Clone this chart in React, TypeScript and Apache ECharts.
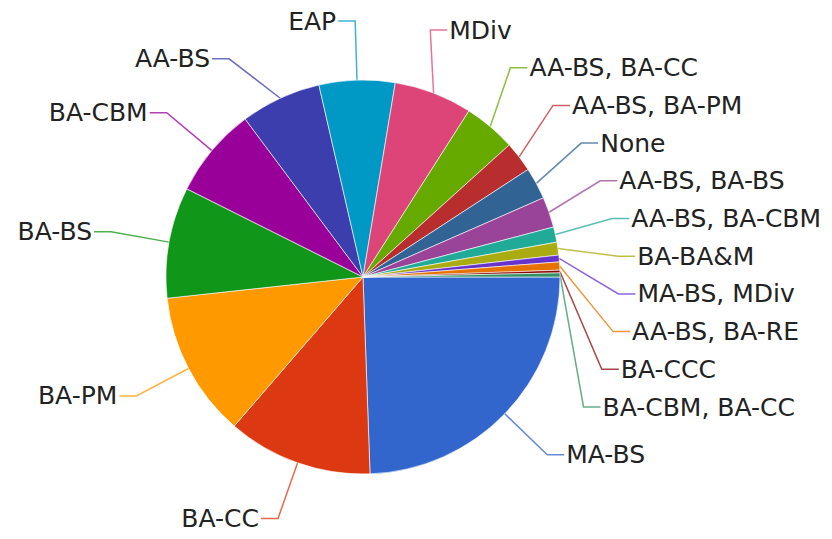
import React, { useEffect, useRef } from "react";
import * as echarts from "echarts";

const categories = [
  "MA-BS",
  "BA-CC",
  "BA-PM",
  "BA-BS",
  "BA-CBM",
  "AA-BS",
  "EAP",
  "MDiv",
  "AA-BS, BA-CC",
  "AA-BS, BA-PM",
  "None",
  "AA-BS, BA-BS",
  "AA-BS, BA-CBM",
  "BA-BA&M",
  "MA-BS, MDiv",
  "AA-BS, BA-RE",
  "BA-CCC",
  "BA-CBM, BA-CC",
];

const values = [88, 42.9, 43, 32.8, 26.7, 23.8, 22.4, 23.1, 15.4, 9, 9.4, 9, 4.5, 3.8, 2, 2.4, 0.8, 1.2];

const colors = [
  "#3366cc",
  "#dc3912",
  "#ff9900",
  "#109618",
  "#990099",
  "#3b3eac",
  "#0099c6",
  "#dd4477",
  "#66aa00",
  "#b82e2e",
  "#316395",
  "#994499",
  "#22aa99",
  "#aaaa11",
  "#6633cc",
  "#e67300",
  "#8b0707",
  "#329262",
];

// layout constants (not data)
const CX = 363;
const CY = 277;
const R = 197;
const ELBOW_R = 256;
const LEN2 = 17;
const TEXT_GAP = 2;
const GAP = 37.7;
const TOP = 30;

type LabelPos = { x: number; y: number; right: boolean; pts: number[][] };

function computeLabelLayout(vals: number[]): LabelPos[] {
  const total = vals.reduce((a, b) => a + b, 0);
  let cum = 0;
  const items = vals.map((v, i) => {
    const mid = ((cum + v / 2) / total) * Math.PI * 2;
    cum += v;
    const right = Math.cos(mid) >= 0;
    return {
      i,
      mid,
      right,
      natural: CY + ELBOW_R * Math.sin(mid),
      y: CY + ELBOW_R * Math.sin(mid),
    };
  });
  const out: LabelPos[] = new Array(vals.length);
  [true, false].forEach((side) => {
    const list = items.filter((it) => it.right === side).sort((a, b) => a.natural - b.natural);
    if (!list.length) return;
    let lastUpper = -1;
    list.forEach((it, k) => {
      if (it.natural < CY) lastUpper = k;
    });
    for (let k = lastUpper - 1; k >= 0; k--) {
      list[k].y = Math.min(list[k].y, list[k + 1].y - GAP);
    }
    list[0].y = Math.max(list[0].y, Math.min(list[0].natural, TOP));
    for (let k = 1; k < list.length; k++) {
      list[k].y = Math.max(list[k].y, list[k - 1].y + GAP);
    }
    list.forEach((it) => {
      const dy = it.y - CY;
      const dx = Math.sqrt(Math.max(0, ELBOW_R * ELBOW_R - dy * dy));
      const sgn = side ? 1 : -1;
      const ex = CX + sgn * dx;
      const start = [CX + R * Math.cos(it.mid), CY + R * Math.sin(it.mid)];
      const end = [ex + sgn * LEN2, it.y];
      out[it.i] = {
        x: end[0] + sgn * TEXT_GAP,
        y: it.y,
        right: side,
        pts: [start, [ex, it.y], end],
      };
    });
  });
  return out;
}

export default function App() {
  const ref = useRef<HTMLDivElement>(null);
  useEffect(() => {
    if (!ref.current) return;
    const chart = echarts.init(ref.current, undefined, { renderer: "svg" });
    const layout = computeLabelLayout(values);
    chart.setOption({
      animation: false,
      backgroundColor: "#ffffff",
      color: colors,
      series: [
        {
          type: "pie",
          center: [CX, CY],
          radius: R,
          startAngle: 0,
          clockwise: true,
          avoidLabelOverlap: false,
          itemStyle: { borderColor: "#ffffff", borderWidth: 0.6 },
          label: {
            show: true,
            position: "outside",
            fontSize: 25,
            fontFamily: "DejaVu Sans",
            color: "#222222",
          },
          labelLine: {
            show: true,
            length: 56,
            length2: 17,
            smooth: false,
            lineStyle: { width: 1.5, opacity: 0.75 },
          },
          labelLayout: (params: any) => {
            const p = layout[params.dataIndex];
            if (!p) return {};
            return {
              x: p.x,
              y: p.y,
              align: p.right ? "left" : "right",
              verticalAlign: "middle",
              labelLinePoints: p.pts,
            };
          },
          data: categories.map((name, i) => ({ name, value: values[i] })),
        },
      ],
    });
    return () => chart.dispose();
  }, []);
  return (
    <div
      ref={ref}
      style={{ position: "fixed", left: 0, top: 0, width: 832, height: 539 }}
    />
  );
}
